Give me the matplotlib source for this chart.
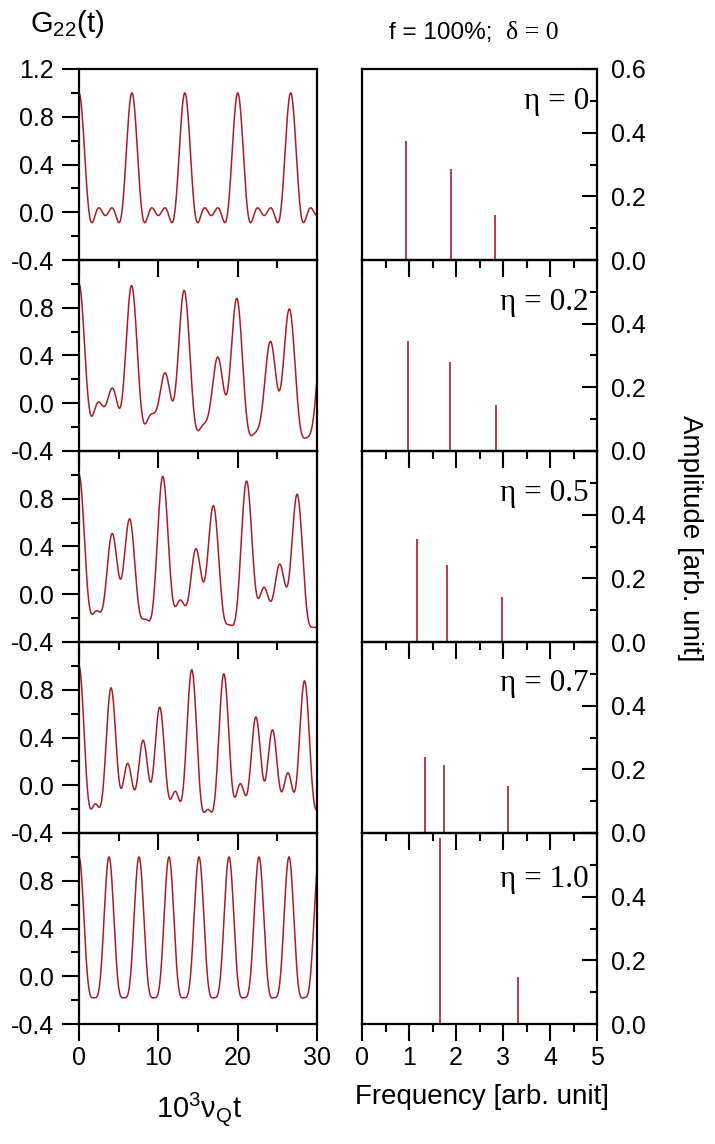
import numpy as np
import matplotlib
matplotlib.use('Agg')
import matplotlib.pyplot as plt
from matplotlib.ticker import MultipleLocator, FixedLocator, FuncFormatter

plt.rcParams['font.family'] = ['Liberation Sans', 'DejaVu Sans']
plt.rcParams['mathtext.fontset'] = 'custom'
plt.rcParams['mathtext.rm'] = 'Liberation Sans'
plt.rcParams['axes.unicode_minus'] = False

# stick spectra (frequency, amplitude)
eta_labels = ['η = 0', 'η = 0.2', 'η = 0.5', 'η = 0.7', 'η = 1.0']
freqs = [
    [0.942, 1.884, 2.826],
    [0.982, 1.869, 2.851],
    [1.170, 1.803, 2.973],
    [1.350, 1.746, 3.096],
    [1.662, 3.323],
]
amps = [
    [0.373, 0.287, 0.142],
    [0.346, 0.279, 0.146],
    [0.322, 0.243, 0.142],
    [0.240, 0.214, 0.149],
    [0.583, 0.148],
]
# hard-core (time independent) term of G22
hard_core = [0.2, 0.2, 0.2, 0.2, 0.26]

W, H = 715, 1144
red = '#a61e26'
row_tops = [69, 260, 451, 642, 833]
row_h = 191
eta_y = [0.83, 0.775, 0.78, 0.785, 0.755]


def rect(x0, y0, x1, y1):
    return [x0 / W, 1 - y1 / H, (x1 - x0) / W, (y1 - y0) / H]


fig = plt.figure(figsize=(W / 100, H / 100), dpi=100)

# G22(t) = s0 + sum s_n cos(w_n t); s_n follow the stick ratios, G22(0) = 1
t = np.linspace(0, 30, 3000)

for i, top in enumerate(row_tops):
    last = i == len(row_tops) - 1

    # left: time spectrum
    ax = fig.add_axes(rect(79, top, 317, top + row_h))
    ax.patch.set_visible(False)
    s0 = hard_core[i]
    scale = (1 - s0) / sum(amps[i])
    g = s0 + sum(scale * a * np.cos(w * t) for w, a in zip(freqs[i], amps[i]))
    ax.plot(t, g, color=red, lw=1.1)
    ax.set_xlim(0, 30)
    ax.set_ylim(-0.4, 1.2)
    ax.xaxis.set_major_locator(MultipleLocator(10))
    ax.xaxis.set_minor_locator(MultipleLocator(5))
    ax.yaxis.set_major_locator(FixedLocator([-0.4, 0.0, 0.4, 0.8, 1.2]))
    ax.yaxis.set_minor_locator(FixedLocator([-0.2, 0.2, 0.6, 1.0]))
    ax.yaxis.set_major_formatter(FuncFormatter(
        lambda v, p, first=(i == 0): '' if (v > 1.1 and not first) else f'{v:.1f}'))
    ax.tick_params(axis='both', which='major', direction='out', length=12, width=1.5)
    ax.tick_params(axis='both', which='minor', direction='out', length=6, width=1.5)
    ax.tick_params(axis='y', labelsize=18, pad=6)
    ax.tick_params(axis='x', labelsize=18, pad=4, labelbottom=last)
    for s in ax.spines.values():
        s.set_linewidth(1.6)

    # right: frequency spectrum
    ax2 = fig.add_axes(rect(362, top, 597, top + row_h))
    ax2.patch.set_visible(False)
    ax2.vlines(freqs[i], 0, amps[i], color=red, lw=1.2)
    ax2.set_xlim(0, 5)
    ax2.set_ylim(0, 0.6)
    ax2.yaxis.tick_right()
    ax2.xaxis.set_major_locator(MultipleLocator(1))
    ax2.xaxis.set_minor_locator(MultipleLocator(0.5))
    ax2.yaxis.set_major_locator(FixedLocator([0.0, 0.2, 0.4, 0.6]))
    ax2.yaxis.set_minor_locator(FixedLocator([0.1, 0.3, 0.5]))
    ax2.yaxis.set_major_formatter(FuncFormatter(
        lambda v, p, first=(i == 0): '' if (v > 0.55 and not first) else f'{v:.1f}'))
    ax2.tick_params(axis='y', which='major', direction='in', length=11, width=1.5,
                    labelsize=18, pad=10, left=False, right=True)
    ax2.tick_params(axis='y', which='minor', direction='in', length=5, width=1.5,
                    left=False, right=True)
    ax2.tick_params(axis='x', which='major', direction='out', length=12, width=1.5,
                    labelsize=18, pad=4, labelbottom=last)
    ax2.tick_params(axis='x', which='minor', direction='out', length=6, width=1.5)
    for s in ax2.spines.values():
        s.set_linewidth(1.6)
    ax2.text(0.965, eta_y[i], eta_labels[i], transform=ax2.transAxes,
             ha='right', va='center', fontsize=22.5, family='Liberation Serif')

# labels and title
fig.text(30 / W, 1 - 32 / H, r'$\mathregular{G_{22}(t)}$', fontsize=21,
         ha='left', va='baseline')
fig.text(492 / W, 1 - 39 / H, 'f = 100%;', fontsize=17.5, ha='right', va='baseline')
fig.text(506 / W, 1 - 39 / H, 'δ = 0', fontsize=18.5, ha='left', va='baseline',
         family='Liberation Serif')
fig.text(199 / W, 1 - 1118 / H, r'$\mathregular{10^3\nu_Qt}$', fontsize=21,
         ha='center', va='baseline')
fig.text(482 / W, 1 - 1104 / H, 'Frequency [arb. unit]', fontsize=20,
         ha='center', va='baseline')
fig.text(690 / W, 1 - 538 / H, 'Amplitude [arb. unit]', fontsize=20,
         ha='center', va='center', rotation=270)

fig.savefig('out.png', dpi=100)
